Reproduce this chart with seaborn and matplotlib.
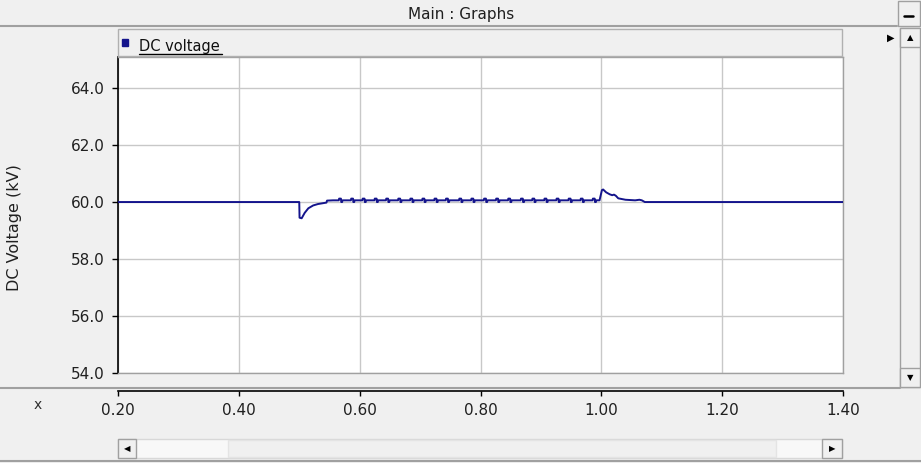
import numpy as np
import pandas as pd
import seaborn as sns
import matplotlib.pyplot as plt
from matplotlib.patches import Rectangle
from matplotlib.lines import Line2D

# trace (time in s, voltage in kV)
pre_t = [0.20, 0.500]
pre_v = [60.0, 60.0]

sag_t = [0.5005, 0.504, 0.509, 0.515, 0.523, 0.531, 0.545, 0.546, 0.556]
sag_v = [59.45, 59.43, 59.62, 59.78, 59.88, 59.93, 59.98, 60.05, 60.06]

spike_t = [0.567, 0.587, 0.606, 0.626, 0.645, 0.665, 0.685, 0.705, 0.725, 0.744, 0.766,
           0.786, 0.807, 0.827, 0.847, 0.868, 0.887, 0.907, 0.927, 0.947, 0.967, 0.987]
ripple_base = 60.06
spike_peak = 60.12
spike_dip = 60.0

swell_t = [0.997, 1.001, 1.003, 1.008, 1.014, 1.018, 1.021, 1.024, 1.028, 1.040,
           1.056, 1.063, 1.067, 1.072, 1.40]
swell_v = [60.06, 60.42, 60.44, 60.34, 60.27, 60.24, 60.26, 60.22, 60.13, 60.08,
           60.06, 60.08, 60.06, 60.0, 60.0]

y_ticks = [54.0, 56.0, 58.0, 60.0, 62.0, 64.0]
x_ticks = [0.20, 0.40, 0.60, 0.80, 1.00, 1.20, 1.40]

LINE = "#14148c"
GRID = "#c8c8c8"
EDGE = "#a0a0a0"
BG = "#f0f0f0"

W, H = 921, 463


def fx(x):
    return x / W


def fy(y):
    return 1 - y / H


def box(fig, x0, y0, x1, y1, fc=BG, ec=EDGE, lw=1.0):
    fig.add_artist(Rectangle((fx(x0), fy(y1)), (x1 - x0) / W, (y1 - y0) / H,
                             transform=fig.transFigure, facecolor=fc, edgecolor=ec, lw=lw))


def hline(fig, x0, x1, y, color=EDGE, lw=1.0):
    fig.add_artist(Line2D([fx(x0), fx(x1)], [fy(y), fy(y)], transform=fig.transFigure,
                          color=color, lw=lw))


# assemble trace
t = list(pre_t) + list(sag_t)
v = list(pre_v) + list(sag_v)
for s in spike_t:
    t += [s - 0.0015, s - 0.001, s + 0.002, s + 0.0025, s + 0.004, s + 0.0045]
    v += [ripple_base, spike_peak, spike_peak, spike_dip, spike_dip, ripple_base]
t += swell_t
v += swell_v
df = pd.DataFrame({"time": t, "voltage": v})

sns.set_style("white")
plt.rcParams['font.family'] = ['DejaVu Sans']

fig = plt.figure(figsize=(W / 100, H / 100), dpi=100, facecolor=BG)

# main plot
ax = fig.add_axes([fx(118), fy(373), (843 - 118) / W, (373 - 57) / H])
ax.set_facecolor("white")
sns.lineplot(data=df, x="time", y="voltage", ax=ax, estimator=None, sort=False,
             color=LINE, lw=1.4, legend=False, zorder=3)
ax.set_xlim(0.2, 1.4)
ax.set_ylim(54.0, 65.09)
ax.set_xticks(x_ticks)
ax.set_yticks(y_ticks)
ax.set_yticklabels(["%.1f" % y for y in y_ticks])
ax.tick_params(axis='x', length=0, labelbottom=False)
ax.tick_params(axis='y', left=True, direction='out', length=4.3, width=1, color='black',
               pad=5, labelsize=11, labelcolor='#202020')
ax.grid(True, color=GRID, lw=1.0)
ax.set_axisbelow(True)
ax.set_xlabel("")
ax.set_ylabel("")
for side in ["top", "right", "bottom"]:
    ax.spines[side].set_color(EDGE)
    ax.spines[side].set_linewidth(1.0)
ax.spines["left"].set_color("black")
ax.spines["left"].set_linewidth(1.2)

fig.text(fx(14), fy(228), "DC Voltage (kV)", rotation=90, ha='center', va='center',
         size=11.5, color='#202020')

# separate x axis strip
ax2 = fig.add_axes([fx(118), fy(391), (843 - 118) / W, 0.0001])
ax2.set_facecolor("none")
ax2.set_xlim(0.2, 1.4)
ax2.set_xticks(x_ticks)
ax2.set_xticklabels(["%.2f" % x for x in x_ticks])
ax2.set_yticks([])
ax2.tick_params(axis='x', bottom=True, direction='out', length=3.6, width=1, color='black',
                pad=5, labelsize=11, labelcolor='#202020')
for side in ["top", "left", "right"]:
    ax2.spines[side].set_visible(False)
ax2.spines["bottom"].set_color("black")
ax2.spines["bottom"].set_linewidth(1.2)
fig.text(fx(38), fy(405), "x", ha='center', va='center', size=10, color='#303030')

# title bar
fig.text(fx(461), fy(14), "Main : Graphs", ha='center', va='center', size=11, color='#202020')
hline(fig, 0, 897, 26, lw=1.5)
box(fig, 898, 1, 920, 26)
hline(fig, 904, 913, 15.5, color='black', lw=1.8)

# legend bar
box(fig, 118, 29, 842, 56, ec='#b0b0b0')
box(fig, 122, 39, 128, 46, fc=LINE, ec=LINE)
fig.text(fx(139), fy(51), "DC voltage", ha='left', va='baseline', size=10.5, color='#101010')
hline(fig, 139, 222, 53.5, color='black', lw=1.0)

# right scrollbar
box(fig, 900, 28, 920, 387)
box(fig, 900, 28, 920, 47)
box(fig, 900, 368, 920, 387)
fig.text(fx(910), fy(37.5), "\u25b2", ha='center', va='center', size=6, color='black')
fig.text(fx(910), fy(378), "\u25bc", ha='center', va='center', size=6, color='black')
fig.text(fx(891), fy(38), "\u25b6", ha='center', va='center', size=7, color='black')

# separator between plot and x axis strip
hline(fig, 0, 900, 387.5, lw=1.5)

# bottom scrollbar
box(fig, 118, 439, 842, 458, fc='#f8f8f8', ec='#d8d8d8')
box(fig, 228, 440, 776, 457, fc=BG, ec='#e4e4e4')
box(fig, 118, 439, 136, 458)
box(fig, 822, 439, 842, 458)
fig.text(fx(127), fy(448.5), "\u25c0", ha='center', va='center', size=6, color='black')
fig.text(fx(832), fy(448.5), "\u25b6", ha='center', va='center', size=6, color='black')
hline(fig, 0, 921, 461, lw=1.5)

fig.savefig("out.png", dpi=100, facecolor=fig.get_facecolor())
